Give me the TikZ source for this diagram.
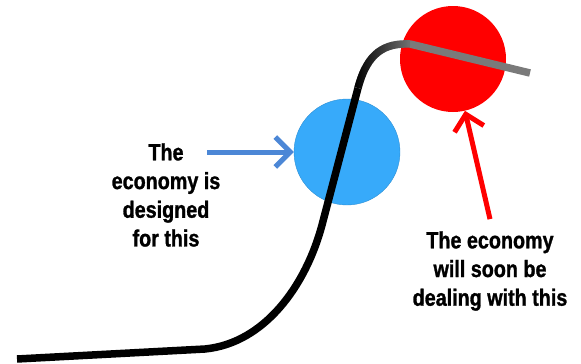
\documentclass[tikz,border=0pt]{standalone}
\usepackage{fontspec}
\setmainfont{Liberation Sans}[FakeStretch=0.84,BoldFeatures={FakeBold=1.2}]
\usepackage{tikz}
\usetikzlibrary{positioning,arrows.meta,fadings}

\definecolor{skyblue}{RGB}{55,170,250}
\definecolor{arrowblue}{RGB}{76,135,214}
\definecolor{curvegray}{RGB}{122,122,122}

\tikzfading[name=faderight, left color=transparent!0, right color=transparent!100]

\begin{document}
\begin{tikzpicture}[x=1pt,y=-1pt,
  every node/.style={font=\bfseries\fontsize{23.5}{28.7}\selectfont,align=center,inner sep=0pt},
  ball/.style={circle,minimum size=106pt},
  pointer/.style={line width=5pt,-{Straight Barb[length=15pt,width=30pt]}},
  growth/.style={line width=7.5pt}
]
\useasboundingbox (0,0) rectangle (581,364);
% the two balls
\node[ball,fill=skyblue,draw=skyblue!85!black,line width=0.4pt] (blue) at (347,152) {};
\node[ball,fill=red] (red) at (453,59) {};
% the growth curve, fading from black to gray over the bend
\draw[growth] (17,359) -- (205,349) .. controls (265,343) and (306,285) .. (322,225) -- (358,88);
\draw[growth,curvegray] (358,88) .. controls (367.4,52) and (385,43) .. (410,44) -- (530,73);
\draw[growth,black,path fading=faderight] (358,88) .. controls (367.4,52) and (385,43) .. (410,44);
% labels
\node (designed) at (166,195) {The\\economy is\\designed\\for this};
\node (soon) at (490,271) {The economy\\will soon be\\dealing with this};
\coordinate (bluetail) at (207,152);
\coordinate (redtail) at ([yshift=12pt]soon.north);
\draw[pointer,arrowblue] (bluetail) -- (blue.west);
\draw[pointer,red] (redtail) -- (red);
\end{tikzpicture}
\end{document}
